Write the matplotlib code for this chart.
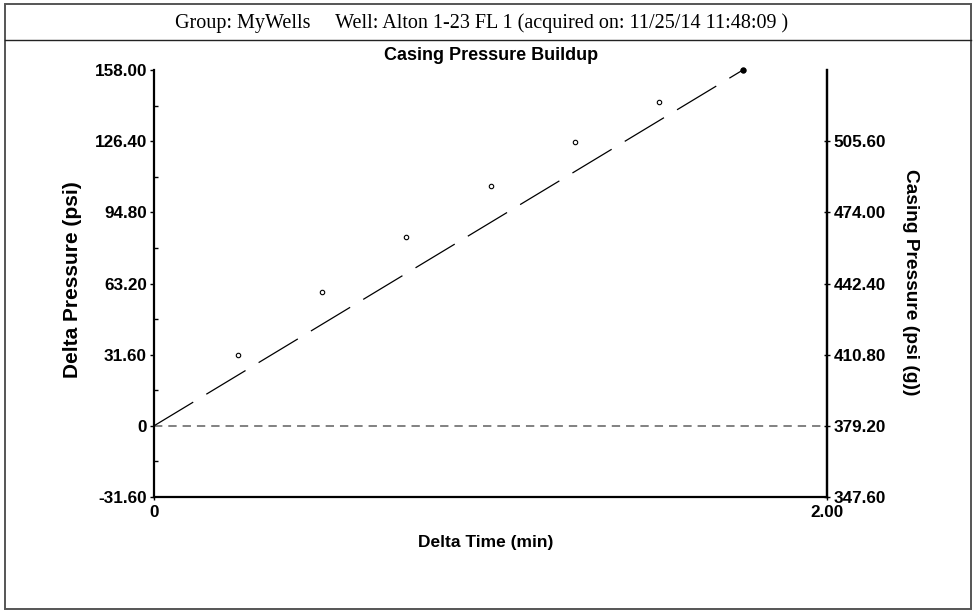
import matplotlib
matplotlib.use("Agg")
import matplotlib.pyplot as plt
from matplotlib.lines import Line2D
from matplotlib.patches import Rectangle

# ---- data ----
delta_time = [0.0, 0.25, 0.50, 0.75, 1.00, 1.25, 1.50, 1.75]
delta_pressure = [0.0, 31.4, 59.6, 84.0, 106.7, 126.2, 143.6, 158.0]
base_pressure = 379.2
left_ticks = [-31.6, 0.0, 31.6, 63.2, 94.8, 126.4, 158.0]
left_tick_labels = ["-31.60", "0", "31.60", "63.20", "94.80", "126.40", "158.00"]
right_ticks = [347.6, 379.2, 410.8, 442.4, 474.0, 505.6]
right_tick_labels = ["347.60", "379.20", "410.80", "442.40", "474.00", "505.60"]
x_ticks = [0.0, 2.0]
x_tick_labels = ["0", "2.00"]

header = "Group: MyWells     Well: Alton 1-23 FL 1 (acquired on: 11/25/14 11:48:09 )"
title = "Casing Pressure Buildup"

W, H = 973, 612
plt.rcParams['font.family'] = ['Liberation Sans', 'DejaVu Sans']
plt.rcParams['lines.scale_dashes'] = False
fig = plt.figure(figsize=(W / 100, H / 100), dpi=100)

def fx(px):
    return px / W

def fy(py):
    return 1 - py / H

L, R, T, B = 154, 827, 70, 497
ax = fig.add_axes([fx(L), fy(B), fx(R) - fx(L), fy(T) - fy(B)])
ax.set_xlim(0, 2.0)
ax.set_ylim(-31.6, 158.0)

ax.spines['top'].set_visible(False)
for s in ['left', 'bottom', 'right']:
    ax.spines[s].set_linewidth(1.6)
    ax.spines[s].set_color('black')

ax.set_yticks(left_ticks)
ax.set_yticklabels(left_tick_labels, fontsize=12.3, fontweight='bold')
ax.set_yticks([(a + b) / 2 for a, b in zip(left_ticks[:-1], left_ticks[1:])], minor=True)
ax.tick_params(axis='y', which='major', direction='out', length=3, width=1, pad=2)
ax.tick_params(axis='y', which='minor', direction='in', length=3, width=1)
ax.set_xticks(x_ticks)
ax.set_xticklabels(x_tick_labels, fontsize=12.3, fontweight='bold')
ax.tick_params(axis='x', which='major', direction='out', length=2, width=1, pad=3.5)

# zero reference line
ax.axhline(0, color='#777777', lw=1.3, dashes=(6, 4.3))

# fit line through first and last points
ax.plot([delta_time[0], delta_time[-1]], [delta_pressure[0], delta_pressure[-1]],
        color='black', lw=0.9, dashes=(33, 11))

# data points
ax.plot(delta_time[1:], delta_pressure[1:], linestyle='none', marker='o',
        markersize=3.2, markerfacecolor='white', markeredgecolor='black', markeredgewidth=0.8,
        clip_on=False)
ax.plot([delta_time[-1]], [delta_pressure[-1]], linestyle='none', marker='o',
        markersize=3.5, color='black', clip_on=False)

# right axis
ax2 = ax.twinx()
ax2.set_ylim(-31.6 + base_pressure, 158.0 + base_pressure)
for s in ['top', 'left', 'bottom']:
    ax2.spines[s].set_visible(False)
ax2.spines['right'].set_linewidth(1.6)
ax2.set_yticks(right_ticks)
ax2.set_yticklabels(right_tick_labels, fontsize=12.3, fontweight='bold')
ax2.tick_params(axis='y', which='major', direction='inout', length=5, width=1, pad=2)

# labels
fig.text(fx(491), fy(56), title, ha='center', va='center', fontsize=13, fontweight='bold')
fig.text(fx(486), fy(543), "Delta Time (min)", ha='center', va='center', fontsize=12.5, fontweight='bold')
fig.text(fx(72), fy(280), "Delta Pressure (psi)", ha='center', va='center', rotation=90,
         fontsize=15, fontweight='bold')
fig.text(fx(910), fy(282), "Casing Pressure (psi (g))", ha='center', va='center', rotation=270,
         fontsize=13.8, fontweight='bold')
fig.text(fx(482), fy(23), header, ha='center', va='center', fontsize=14.5,
         family=['Liberation Serif', 'DejaVu Serif'])

# frames
fig.add_artist(Rectangle((fx(5), fy(609)), fx(971) - fx(5), fy(4) - fy(609),
                         transform=fig.transFigure, fill=False, edgecolor='#555555', lw=1.4))
fig.add_artist(Line2D([fx(5), fx(971)], [fy(40), fy(40)], transform=fig.transFigure,
                      color='#222222', lw=1.0))

fig.savefig("out.png", dpi=100)
